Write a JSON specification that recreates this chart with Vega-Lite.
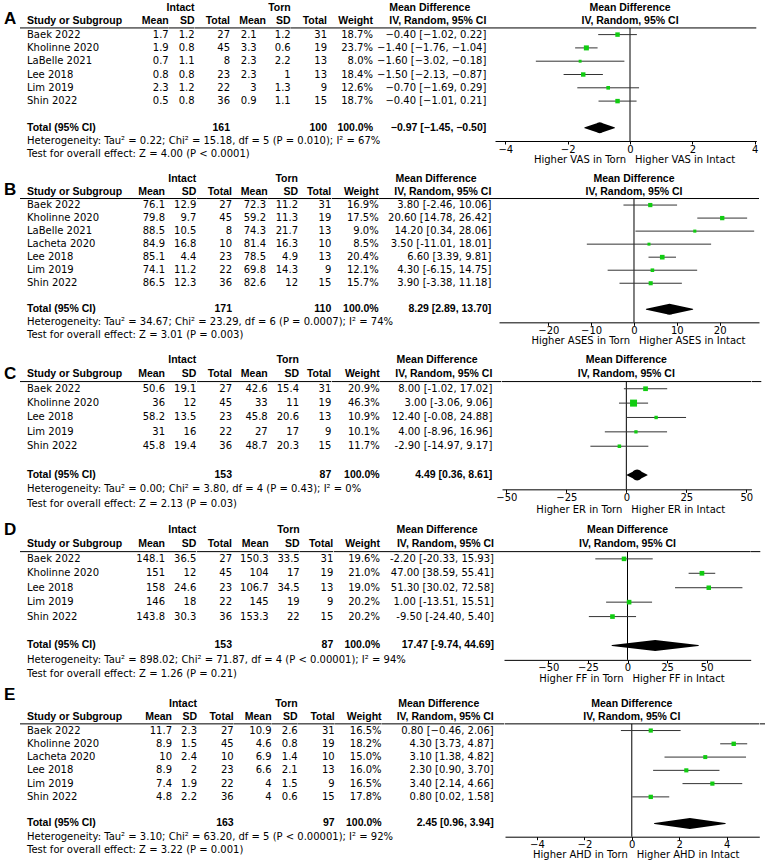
{
"$schema":"https://vega.github.io/schema/vega-lite/v6.json",
"background":"white",
"padding":{"left":2,"top":3,"right":0,"bottom":0},
"config":{"view":{"stroke":null},"text":{"font":"DejaVu Sans","fontSize":10,"color":"#000","align":"right","baseline":"middle"},"rule":{"color":"#000","strokeWidth":1},"axis":{"grid":false,"domainColor":"#000","tickColor":"#000","labelColor":"#000","labelFont":"DejaVu Sans","labelFontSize":10,"tickSize":3,"labelPadding":0,"labelFlush":false,"labelOverlap":false}},
"datasets":{
"A":[
{"row":"h1","kind":"head","isd":"Intact","tsd":"Torn","ci":"Mean Difference"},
{"row":"h2","kind":"head","study":"Study or Subgroup","im":"Mean","isd":"SD","itot":"Total","tm":"Mean","tsd":"SD","ttot":"Total","w":"Weight","ci":"IV, Random, 95% CI"},
{"row":"Baek 2022","kind":"study","study":"Baek 2022","im":1.7,"isd":1.2,"itot":27,"tm":2.1,"tsd":1.2,"ttot":31,"w":"18.7%","wt":18.7,"ci":"−0.40 [−1.02, 0.22]","md":-0.4,"lo":-1.02,"hi":0.22},
{"row":"Kholinne 2020","kind":"study","study":"Kholinne 2020","im":1.9,"isd":0.8,"itot":45,"tm":3.3,"tsd":0.6,"ttot":19,"w":"23.7%","wt":23.7,"ci":"−1.40 [−1.76, −1.04]","md":-1.4,"lo":-1.76,"hi":-1.04},
{"row":"LaBelle 2021","kind":"study","study":"LaBelle 2021","im":0.7,"isd":1.1,"itot":8,"tm":2.3,"tsd":2.2,"ttot":13,"w":"8.0%","wt":8.0,"ci":"−1.60 [−3.02, −0.18]","md":-1.6,"lo":-3.02,"hi":-0.18},
{"row":"Lee 2018","kind":"study","study":"Lee 2018","im":0.8,"isd":0.8,"itot":23,"tm":2.3,"tsd":1,"ttot":13,"w":"18.4%","wt":18.4,"ci":"−1.50 [−2.13, −0.87]","md":-1.5,"lo":-2.13,"hi":-0.87},
{"row":"Lim 2019","kind":"study","study":"Lim 2019","im":2.3,"isd":1.2,"itot":22,"tm":3,"tsd":1.3,"ttot":9,"w":"12.6%","wt":12.6,"ci":"−0.70 [−1.69, 0.29]","md":-0.7,"lo":-1.69,"hi":0.29},
{"row":"Shin 2022","kind":"study","study":"Shin 2022","im":0.5,"isd":0.8,"itot":36,"tm":0.9,"tsd":1.1,"ttot":15,"w":"18.7%","wt":18.7,"ci":"−0.40 [−1.01, 0.21]","md":-0.4,"lo":-1.01,"hi":0.21},
{"row":"Total","kind":"total","study":"Total (95% CI)","itot":161,"ttot":100,"w":"100.0%","ci":"−0.97 [−1.45, −0.50]","md":-0.97,"lo":-1.45,"hi":-0.5},
{"row":"Het","kind":"note","study":"Heterogeneity: Tau² = 0.22; Chi² = 15.18, df = 5 (P = 0.010); I² = 67%","favL":"Higher VAS in Torn","favR":"Higher VAS in Intact"},
{"row":"Test","kind":"note","study":"Test for overall effect: Z = 4.00 (P < 0.0001)"}
],
"B":[
{"row":"h1","kind":"head","isd":"Intact","tsd":"Torn","ci":"Mean Difference"},
{"row":"h2","kind":"head","study":"Study or Subgroup","im":"Mean","isd":"SD","itot":"Total","tm":"Mean","tsd":"SD","ttot":"Total","w":"Weight","ci":"IV, Random, 95% CI"},
{"row":"Baek 2022","kind":"study","study":"Baek 2022","im":76.1,"isd":12.9,"itot":27,"tm":72.3,"tsd":11.2,"ttot":31,"w":"16.9%","wt":16.9,"ci":"3.80 [-2.46, 10.06]","md":3.8,"lo":-2.46,"hi":10.06},
{"row":"Kholinne 2020","kind":"study","study":"Kholinne 2020","im":79.8,"isd":9.7,"itot":45,"tm":59.2,"tsd":11.3,"ttot":19,"w":"17.5%","wt":17.5,"ci":"20.60 [14.78, 26.42]","md":20.6,"lo":14.78,"hi":26.42},
{"row":"LaBelle 2021","kind":"study","study":"LaBelle 2021","im":88.5,"isd":10.5,"itot":8,"tm":74.3,"tsd":21.7,"ttot":13,"w":"9.0%","wt":9.0,"ci":"14.20 [0.34, 28.06]","md":14.2,"lo":0.34,"hi":28.06},
{"row":"Lacheta 2020","kind":"study","study":"Lacheta 2020","im":84.9,"isd":16.8,"itot":10,"tm":81.4,"tsd":16.3,"ttot":10,"w":"8.5%","wt":8.5,"ci":"3.50 [-11.01, 18.01]","md":3.5,"lo":-11.01,"hi":18.01},
{"row":"Lee 2018","kind":"study","study":"Lee 2018","im":85.1,"isd":4.4,"itot":23,"tm":78.5,"tsd":4.9,"ttot":13,"w":"20.4%","wt":20.4,"ci":"6.60 [3.39, 9.81]","md":6.6,"lo":3.39,"hi":9.81},
{"row":"Lim 2019","kind":"study","study":"Lim 2019","im":74.1,"isd":11.2,"itot":22,"tm":69.8,"tsd":14.3,"ttot":9,"w":"12.1%","wt":12.1,"ci":"4.30 [-6.15, 14.75]","md":4.3,"lo":-6.15,"hi":14.75},
{"row":"Shin 2022","kind":"study","study":"Shin 2022","im":86.5,"isd":12.3,"itot":36,"tm":82.6,"tsd":12,"ttot":15,"w":"15.7%","wt":15.7,"ci":"3.90 [-3.38, 11.18]","md":3.9,"lo":-3.38,"hi":11.18},
{"row":"Total","kind":"total","study":"Total (95% CI)","itot":171,"ttot":110,"w":"100.0%","ci":"8.29 [2.89, 13.70]","md":8.29,"lo":2.89,"hi":13.7},
{"row":"Het","kind":"note","study":"Heterogeneity: Tau² = 34.67; Chi² = 23.29, df = 6 (P = 0.0007); I² = 74%","favL":"Higher ASES in Torn","favR":"Higher ASES in Intact"},
{"row":"Test","kind":"note","study":"Test for overall effect: Z = 3.01 (P = 0.003)"}
],
"C":[
{"row":"h1","kind":"head","isd":"Intact","tsd":"Torn","ci":"Mean Difference"},
{"row":"h2","kind":"head","study":"Study or Subgroup","im":"Mean","isd":"SD","itot":"Total","tm":"Mean","tsd":"SD","ttot":"Total","w":"Weight","ci":"IV, Random, 95% CI"},
{"row":"Baek 2022","kind":"study","study":"Baek 2022","im":50.6,"isd":19.1,"itot":27,"tm":42.6,"tsd":15.4,"ttot":31,"w":"20.9%","wt":20.9,"ci":"8.00 [-1.02, 17.02]","md":8.0,"lo":-1.02,"hi":17.02},
{"row":"Kholinne 2020","kind":"study","study":"Kholinne 2020","im":36,"isd":12,"itot":45,"tm":33,"tsd":11,"ttot":19,"w":"46.3%","wt":46.3,"ci":"3.00 [-3.06, 9.06]","md":3.0,"lo":-3.06,"hi":9.06},
{"row":"Lee 2018","kind":"study","study":"Lee 2018","im":58.2,"isd":13.5,"itot":23,"tm":45.8,"tsd":20.6,"ttot":13,"w":"10.9%","wt":10.9,"ci":"12.40 [-0.08, 24.88]","md":12.4,"lo":-0.08,"hi":24.88},
{"row":"Lim 2019","kind":"study","study":"Lim 2019","im":31,"isd":16,"itot":22,"tm":27,"tsd":17,"ttot":9,"w":"10.1%","wt":10.1,"ci":"4.00 [-8.96, 16.96]","md":4.0,"lo":-8.96,"hi":16.96},
{"row":"Shin 2022","kind":"study","study":"Shin 2022","im":45.8,"isd":19.4,"itot":36,"tm":48.7,"tsd":20.3,"ttot":15,"w":"11.7%","wt":11.7,"ci":"-2.90 [-14.97, 9.17]","md":-2.9,"lo":-14.97,"hi":9.17},
{"row":"Total","kind":"total","study":"Total (95% CI)","itot":153,"ttot":87,"w":"100.0%","ci":"4.49 [0.36, 8.61]","md":4.49,"lo":0.36,"hi":8.61},
{"row":"Het","kind":"note","study":"Heterogeneity: Tau² = 0.00; Chi² = 3.80, df = 4 (P = 0.43); I² = 0%","favL":"Higher ER in Torn","favR":"Higher ER in Intact"},
{"row":"Test","kind":"note","study":"Test for overall effect: Z = 2.13 (P = 0.03)"}
],
"D":[
{"row":"h1","kind":"head","isd":"Intact","tsd":"Torn","ci":"Mean Difference"},
{"row":"h2","kind":"head","study":"Study or Subgroup","im":"Mean","isd":"SD","itot":"Total","tm":"Mean","tsd":"SD","ttot":"Total","w":"Weight","ci":"IV, Random, 95% CI"},
{"row":"Baek 2022","kind":"study","study":"Baek 2022","im":148.1,"isd":36.5,"itot":27,"tm":150.3,"tsd":33.5,"ttot":31,"w":"19.6%","wt":19.6,"ci":"-2.20 [-20.33, 15.93]","md":-2.2,"lo":-20.33,"hi":15.93},
{"row":"Kholinne 2020","kind":"study","study":"Kholinne 2020","im":151,"isd":12,"itot":45,"tm":104,"tsd":17,"ttot":19,"w":"21.0%","wt":21.0,"ci":"47.00 [38.59, 55.41]","md":47.0,"lo":38.59,"hi":55.41},
{"row":"Lee 2018","kind":"study","study":"Lee 2018","im":158,"isd":24.6,"itot":23,"tm":106.7,"tsd":34.5,"ttot":13,"w":"19.0%","wt":19.0,"ci":"51.30 [30.02, 72.58]","md":51.3,"lo":30.02,"hi":72.58},
{"row":"Lim 2019","kind":"study","study":"Lim 2019","im":146,"isd":18,"itot":22,"tm":145,"tsd":19,"ttot":9,"w":"20.2%","wt":20.2,"ci":"1.00 [-13.51, 15.51]","md":1.0,"lo":-13.51,"hi":15.51},
{"row":"Shin 2022","kind":"study","study":"Shin 2022","im":143.8,"isd":30.3,"itot":36,"tm":153.3,"tsd":22,"ttot":15,"w":"20.2%","wt":20.2,"ci":"-9.50 [-24.40, 5.40]","md":-9.5,"lo":-24.4,"hi":5.4},
{"row":"Total","kind":"total","study":"Total (95% CI)","itot":153,"ttot":87,"w":"100.0%","ci":"17.47 [-9.74, 44.69]","md":17.47,"lo":-9.74,"hi":44.69},
{"row":"Het","kind":"note","study":"Heterogeneity: Tau² = 898.02; Chi² = 71.87, df = 4 (P < 0.00001); I² = 94%","favL":"Higher FF in Torn","favR":"Higher FF in Intact"},
{"row":"Test","kind":"note","study":"Test for overall effect: Z = 1.26 (P = 0.21)"}
],
"E":[
{"row":"h1","kind":"head","isd":"Intact","tsd":"Torn","ci":"Mean Difference"},
{"row":"h2","kind":"head","study":"Study or Subgroup","im":"Mean","isd":"SD","itot":"Total","tm":"Mean","tsd":"SD","ttot":"Total","w":"Weight","ci":"IV, Random, 95% CI"},
{"row":"Baek 2022","kind":"study","study":"Baek 2022","im":11.7,"isd":2.3,"itot":27,"tm":10.9,"tsd":2.6,"ttot":31,"w":"16.5%","wt":16.5,"ci":"0.80 [−0.46, 2.06]","md":0.8,"lo":-0.46,"hi":2.06},
{"row":"Kholinne 2020","kind":"study","study":"Kholinne 2020","im":8.9,"isd":1.5,"itot":45,"tm":4.6,"tsd":0.8,"ttot":19,"w":"18.2%","wt":18.2,"ci":"4.30 [3.73, 4.87]","md":4.3,"lo":3.73,"hi":4.87},
{"row":"Lacheta 2020","kind":"study","study":"Lacheta 2020","im":10,"isd":2.4,"itot":10,"tm":6.9,"tsd":1.4,"ttot":10,"w":"15.0%","wt":15.0,"ci":"3.10 [1.38, 4.82]","md":3.1,"lo":1.38,"hi":4.82},
{"row":"Lee 2018","kind":"study","study":"Lee 2018","im":8.9,"isd":2,"itot":23,"tm":6.6,"tsd":2.1,"ttot":13,"w":"16.0%","wt":16.0,"ci":"2.30 [0.90, 3.70]","md":2.3,"lo":0.9,"hi":3.7},
{"row":"Lim 2019","kind":"study","study":"Lim 2019","im":7.4,"isd":1.9,"itot":22,"tm":4,"tsd":1.5,"ttot":9,"w":"16.5%","wt":16.5,"ci":"3.40 [2.14, 4.66]","md":3.4,"lo":2.14,"hi":4.66},
{"row":"Shin 2022","kind":"study","study":"Shin 2022","im":4.8,"isd":2.2,"itot":36,"tm":4,"tsd":0.6,"ttot":15,"w":"17.8%","wt":17.8,"ci":"0.80 [0.02, 1.58]","md":0.8,"lo":0.02,"hi":1.58},
{"row":"Total","kind":"total","study":"Total (95% CI)","itot":163,"ttot":97,"w":"100.0%","ci":"2.45 [0.96, 3.94]","md":2.45,"lo":0.96,"hi":3.94},
{"row":"Het","kind":"note","study":"Heterogeneity: Tau² = 3.10; Chi² = 63.20, df = 5 (P < 0.00001); I² = 92%","favL":"Higher AHD in Torn","favR":"Higher AHD in Intact"},
{"row":"Test","kind":"note","study":"Test for overall effect: Z = 3.22 (P = 0.001)"}
]
},
"spacing":0,
"vconcat":[
{"data":{"name":"A"},"spacing":0,"bounds":"flush","hconcat":[
{"width":18,"height":165.1,"transform":[{"filter":"datum.row==='h2'"}],"mark":{"type":"text","font":"Liberation Sans","fontWeight":"bold","fontSize":17,"align":"left","dx":2,"dy":-2},"encoding":{"x":{"value":0},"y":{"field":"row","type":"ordinal","axis":null,"scale":{"type":"point","padding":0.707,"align":0,"domain":["h1","h2","Baek 2022","Kholinne 2020","LaBelle 2021","Lee 2018","Lim 2019","Shin 2022","gap","Total","Het","Test"]}},"text":{"value":"A"}}},
{"width":102,"height":146.3,"encoding":{"y":{"field":"row","type":"ordinal","axis":null,"scale":{"type":"point","padding":0,"domain":["h1","h2","Baek 2022","Kholinne 2020","LaBelle 2021","Lee 2018","Lim 2019","Shin 2022","gap","Total","Het","Test"]}},"x":{"value":0},"text":{"field":"study","type":"nominal"}},"layer":[
{"transform":[{"filter":"datum.kind==='study'||datum.kind==='note'"}],"mark":{"type":"text","align":"left","dx":7}},
{"transform":[{"filter":"(datum.kind==='head'||datum.kind==='total')&&isValid(datum.study)"}],"mark":{"type":"text","font":"Liberation Sans","fontWeight":"bold","fontSize":10.5,"align":"left","dx":7}},
{"transform":[{"filter":"datum.row==='h2'"}],"mark":{"type":"rule","yOffset":6.65},"encoding":{"x":{"value":0},"x2":{"value":"width"},"text":null}}]},
{"width":46.7,"height":146.3,"encoding":{"y":{"field":"row","type":"ordinal","axis":null,"scale":{"type":"point","padding":0,"domain":["h1","h2","Baek 2022","Kholinne 2020","LaBelle 2021","Lee 2018","Lim 2019","Shin 2022","gap","Total","Het","Test"]}},"x":{"value":"width"},"text":{"field":"im","type":"nominal"}},"layer":[
{"transform":[{"filter":"datum.kind==='study'"}],"mark":{"type":"text"}},
{"transform":[{"filter":"datum.kind!=='study'&&isValid(datum.im)"}],"mark":{"type":"text","font":"Liberation Sans","fontWeight":"bold","fontSize":10.5}},
{"transform":[{"filter":"datum.row==='h2'"}],"mark":{"type":"rule","yOffset":6.65},"encoding":{"x":{"value":0},"x2":{"value":"width"},"text":null}}]},
{"width":25.6,"height":146.3,"encoding":{"y":{"field":"row","type":"ordinal","axis":null,"scale":{"type":"point","padding":0,"domain":["h1","h2","Baek 2022","Kholinne 2020","LaBelle 2021","Lee 2018","Lim 2019","Shin 2022","gap","Total","Het","Test"]}},"x":{"value":"width"},"text":{"field":"isd","type":"nominal"}},"layer":[
{"transform":[{"filter":"datum.kind==='study'"}],"mark":{"type":"text"}},
{"transform":[{"filter":"datum.kind!=='study'&&isValid(datum.isd)"}],"mark":{"type":"text","font":"Liberation Sans","fontWeight":"bold","fontSize":10.5}},
{"transform":[{"filter":"datum.row==='h2'"}],"mark":{"type":"rule","yOffset":6.65},"encoding":{"x":{"value":0},"x2":{"value":"width"},"text":null}}]},
{"width":35,"height":146.3,"encoding":{"y":{"field":"row","type":"ordinal","axis":null,"scale":{"type":"point","padding":0,"domain":["h1","h2","Baek 2022","Kholinne 2020","LaBelle 2021","Lee 2018","Lim 2019","Shin 2022","gap","Total","Het","Test"]}},"x":{"value":"width"},"text":{"field":"itot","type":"nominal"}},"layer":[
{"transform":[{"filter":"datum.kind==='study'"}],"mark":{"type":"text"}},
{"transform":[{"filter":"datum.kind!=='study'&&isValid(datum.itot)"}],"mark":{"type":"text","font":"Liberation Sans","fontWeight":"bold","fontSize":10.5}},
{"transform":[{"filter":"datum.row==='h2'"}],"mark":{"type":"rule","yOffset":6.65},"encoding":{"x":{"value":0},"x2":{"value":"width"},"text":null}}]},
{"width":36,"height":146.3,"encoding":{"y":{"field":"row","type":"ordinal","axis":null,"scale":{"type":"point","padding":0,"domain":["h1","h2","Baek 2022","Kholinne 2020","LaBelle 2021","Lee 2018","Lim 2019","Shin 2022","gap","Total","Het","Test"]}},"x":{"value":"width"},"text":{"field":"tm","type":"nominal"}},"layer":[
{"transform":[{"filter":"datum.kind==='study'"}],"mark":{"type":"text","dx":-9.3}},
{"transform":[{"filter":"datum.kind!=='study'&&isValid(datum.tm)"}],"mark":{"type":"text","font":"Liberation Sans","fontWeight":"bold","fontSize":10.5}},
{"transform":[{"filter":"datum.row==='h2'"}],"mark":{"type":"rule","yOffset":6.65},"encoding":{"x":{"value":0},"x2":{"value":"width"},"text":null}}]},
{"width":24.7,"height":146.3,"encoding":{"y":{"field":"row","type":"ordinal","axis":null,"scale":{"type":"point","padding":0,"domain":["h1","h2","Baek 2022","Kholinne 2020","LaBelle 2021","Lee 2018","Lim 2019","Shin 2022","gap","Total","Het","Test"]}},"x":{"value":"width"},"text":{"field":"tsd","type":"nominal"}},"layer":[
{"transform":[{"filter":"datum.kind==='study'"}],"mark":{"type":"text"}},
{"transform":[{"filter":"datum.kind!=='study'&&isValid(datum.tsd)"}],"mark":{"type":"text","font":"Liberation Sans","fontWeight":"bold","fontSize":10.5}},
{"transform":[{"filter":"datum.row==='h2'"}],"mark":{"type":"rule","yOffset":6.65},"encoding":{"x":{"value":0},"x2":{"value":"width"},"text":null}}]},
{"width":36,"height":146.3,"encoding":{"y":{"field":"row","type":"ordinal","axis":null,"scale":{"type":"point","padding":0,"domain":["h1","h2","Baek 2022","Kholinne 2020","LaBelle 2021","Lee 2018","Lim 2019","Shin 2022","gap","Total","Het","Test"]}},"x":{"value":"width"},"text":{"field":"ttot","type":"nominal"}},"layer":[
{"transform":[{"filter":"datum.kind==='study'"}],"mark":{"type":"text"}},
{"transform":[{"filter":"datum.kind!=='study'&&isValid(datum.ttot)"}],"mark":{"type":"text","font":"Liberation Sans","fontWeight":"bold","fontSize":10.5}},
{"transform":[{"filter":"datum.row==='h2'"}],"mark":{"type":"rule","yOffset":6.65},"encoding":{"x":{"value":0},"x2":{"value":"width"},"text":null}}]},
{"width":46,"height":146.3,"encoding":{"y":{"field":"row","type":"ordinal","axis":null,"scale":{"type":"point","padding":0,"domain":["h1","h2","Baek 2022","Kholinne 2020","LaBelle 2021","Lee 2018","Lim 2019","Shin 2022","gap","Total","Het","Test"]}},"x":{"value":"width"},"text":{"field":"w","type":"nominal"}},"layer":[
{"transform":[{"filter":"datum.kind==='study'"}],"mark":{"type":"text"}},
{"transform":[{"filter":"datum.kind!=='study'&&isValid(datum.w)"}],"mark":{"type":"text","font":"Liberation Sans","fontWeight":"bold","fontSize":10.5}},
{"transform":[{"filter":"datum.row==='h2'"}],"mark":{"type":"rule","yOffset":6.65},"encoding":{"x":{"value":0},"x2":{"value":"width"},"text":null}}]},
{"width":122,"height":146.3,"encoding":{"y":{"field":"row","type":"ordinal","axis":null,"scale":{"type":"point","padding":0,"domain":["h1","h2","Baek 2022","Kholinne 2020","LaBelle 2021","Lee 2018","Lim 2019","Shin 2022","gap","Total","Het","Test"]}},"x":{"value":"width"},"text":{"field":"ci","type":"nominal"}},"layer":[
{"transform":[{"filter":"datum.kind==='study'"}],"mark":{"type":"text","dx":-8.7}},
{"transform":[{"filter":"datum.row==='h2'||datum.kind==='total'"}],"mark":{"type":"text","font":"Liberation Sans","fontWeight":"bold","fontSize":10.5,"dx":-8.7}},
{"transform":[{"filter":"datum.row==='h1'"}],"mark":{"type":"text","font":"Liberation Sans","fontWeight":"bold","fontSize":10.5,"align":"center","dx":-65.3}},
{"transform":[{"filter":"datum.row==='h2'"}],"mark":{"type":"rule","yOffset":6.65},"encoding":{"x":{"value":0},"x2":{"value":"width"},"text":null}}]},
{"width":261.3,"height":133,"encoding":{"y":{"field":"row","type":"ordinal","axis":null,"scale":{"type":"point","padding":0,"domain":["h1","h2","Baek 2022","Kholinne 2020","LaBelle 2021","Lee 2018","Lim 2019","Shin 2022","gap","Total","Het"]}}},"layer":[
{"transform":[{"filter":"datum.row==='h2'"}],"mark":{"type":"rule","yOffset":6.65},"encoding":{"x":{"value":0},"x2":{"value":"width"}}},
{"transform":[{"filter":"datum.row==='h2'"}],"mark":{"type":"rule","yOffset":6.65},"encoding":{"x":{"datum":0,"type":"quantitative","title":null},"y2":{"datum":"Het"}}},
{"transform":[{"filter":"datum.kind==='study'"}],"mark":{"type":"rule","color":"#333"},"encoding":{"x":{"field":"lo","type":"quantitative","title":null,"scale":{"domain":[-4.33,4.05],"nice":false,"zero":false},"axis":{"values":[-4,-2,0,2,4],"title":null}},"x2":{"field":"hi"}}},
{"transform":[{"filter":"datum.kind==='study'"}],"mark":{"type":"square","filled":true,"opacity":1,"color":"#11cc11"},"encoding":{"x":{"field":"md","type":"quantitative","title":null},"size":{"field":"wt","type":"quantitative","scale":{"domain":[0,50],"range":[0,53]},"legend":null}}},
{"transform":[{"filter":"datum.kind==='total'"},{"fold":["lo","md","hi"],"as":["k","v"]}],"mark":{"type":"trail","color":"#000"},"encoding":{"x":{"field":"v","type":"quantitative","title":null},"size":{"condition":{"test":"datum.k==='md'","value":11},"value":0}}},
{"transform":[{"filter":"datum.kind==='head'"}],"mark":{"type":"text","font":"Liberation Sans","fontWeight":"bold","fontSize":10.5,"align":"center"},"encoding":{"x":{"datum":0,"type":"quantitative","title":null},"text":{"field":"ci","type":"nominal"}}},
{"transform":[{"filter":"datum.row==='Het'"}],"mark":{"type":"text","align":"right","dx":-4,"dy":19},"encoding":{"x":{"datum":0,"type":"quantitative","title":null},"text":{"field":"favL","type":"nominal"}}},
{"transform":[{"filter":"datum.row==='Het'"}],"mark":{"type":"text","align":"left","dx":5,"dy":19},"encoding":{"x":{"datum":0,"type":"quantitative","title":null},"text":{"field":"favR","type":"nominal"}}}]}
]},
{"data":{"name":"B"},"spacing":0,"bounds":"flush","hconcat":[
{"width":18,"height":175.2,"transform":[{"filter":"datum.row==='h2'"}],"mark":{"type":"text","font":"Liberation Sans","fontWeight":"bold","fontSize":17,"align":"left","dx":2,"dy":-2},"encoding":{"x":{"value":0},"y":{"field":"row","type":"ordinal","axis":null,"scale":{"type":"point","padding":0.723,"align":0,"domain":["h1","h2","Baek 2022","Kholinne 2020","LaBelle 2021","Lacheta 2020","Lee 2018","Lim 2019","Shin 2022","gap","Total","Het","Test"]}},"text":{"value":"B"}}},
{"width":102,"height":156.36,"encoding":{"y":{"field":"row","type":"ordinal","axis":null,"scale":{"type":"point","padding":0,"domain":["h1","h2","Baek 2022","Kholinne 2020","LaBelle 2021","Lacheta 2020","Lee 2018","Lim 2019","Shin 2022","gap","Total","Het","Test"]}},"x":{"value":0},"text":{"field":"study","type":"nominal"}},"layer":[
{"transform":[{"filter":"datum.kind==='study'||datum.kind==='note'"}],"mark":{"type":"text","align":"left","dx":7}},
{"transform":[{"filter":"(datum.kind==='head'||datum.kind==='total')&&isValid(datum.study)"}],"mark":{"type":"text","font":"Liberation Sans","fontWeight":"bold","fontSize":10.5,"align":"left","dx":7}},
{"transform":[{"filter":"datum.row==='h2'"}],"mark":{"type":"rule","yOffset":6.5},"encoding":{"x":{"value":0},"x2":{"value":"width"},"text":null}}]},
{"width":43,"height":156.36,"encoding":{"y":{"field":"row","type":"ordinal","axis":null,"scale":{"type":"point","padding":0,"domain":["h1","h2","Baek 2022","Kholinne 2020","LaBelle 2021","Lacheta 2020","Lee 2018","Lim 2019","Shin 2022","gap","Total","Het","Test"]}},"x":{"value":"width"},"text":{"field":"im","type":"nominal"}},"layer":[
{"transform":[{"filter":"datum.kind==='study'"}],"mark":{"type":"text"}},
{"transform":[{"filter":"datum.kind!=='study'&&isValid(datum.im)"}],"mark":{"type":"text","font":"Liberation Sans","fontWeight":"bold","fontSize":10.5}},
{"transform":[{"filter":"datum.row==='h2'"}],"mark":{"type":"rule","yOffset":6.5},"encoding":{"x":{"value":0},"x2":{"value":"width"},"text":null}}]},
{"width":31.3,"height":156.36,"encoding":{"y":{"field":"row","type":"ordinal","axis":null,"scale":{"type":"point","padding":0,"domain":["h1","h2","Baek 2022","Kholinne 2020","LaBelle 2021","Lacheta 2020","Lee 2018","Lim 2019","Shin 2022","gap","Total","Het","Test"]}},"x":{"value":"width"},"text":{"field":"isd","type":"nominal"}},"layer":[
{"transform":[{"filter":"datum.kind==='study'"}],"mark":{"type":"text"}},
{"transform":[{"filter":"datum.kind!=='study'&&isValid(datum.isd)"}],"mark":{"type":"text","font":"Liberation Sans","fontWeight":"bold","fontSize":10.5}},
{"transform":[{"filter":"datum.row==='h2'"}],"mark":{"type":"rule","yOffset":6.5},"encoding":{"x":{"value":0},"x2":{"value":"width"},"text":null}}]},
{"width":35,"height":156.36,"encoding":{"y":{"field":"row","type":"ordinal","axis":null,"scale":{"type":"point","padding":0,"domain":["h1","h2","Baek 2022","Kholinne 2020","LaBelle 2021","Lacheta 2020","Lee 2018","Lim 2019","Shin 2022","gap","Total","Het","Test"]}},"x":{"value":"width"},"text":{"field":"itot","type":"nominal"}},"layer":[
{"transform":[{"filter":"datum.kind==='study'"}],"mark":{"type":"text"}},
{"transform":[{"filter":"datum.kind!=='study'&&isValid(datum.itot)"}],"mark":{"type":"text","font":"Liberation Sans","fontWeight":"bold","fontSize":10.5}},
{"transform":[{"filter":"datum.row==='h2'"}],"mark":{"type":"rule","yOffset":6.5},"encoding":{"x":{"value":0},"x2":{"value":"width"},"text":null}}]},
{"width":35.7,"height":156.36,"encoding":{"y":{"field":"row","type":"ordinal","axis":null,"scale":{"type":"point","padding":0,"domain":["h1","h2","Baek 2022","Kholinne 2020","LaBelle 2021","Lacheta 2020","Lee 2018","Lim 2019","Shin 2022","gap","Total","Het","Test"]}},"x":{"value":"width"},"text":{"field":"tm","type":"nominal"}},"layer":[
{"transform":[{"filter":"datum.kind==='study'"}],"mark":{"type":"text","dx":-1.7}},
{"transform":[{"filter":"datum.kind!=='study'&&isValid(datum.tm)"}],"mark":{"type":"text","font":"Liberation Sans","fontWeight":"bold","fontSize":10.5}},
{"transform":[{"filter":"datum.row==='h2'"}],"mark":{"type":"rule","yOffset":6.5},"encoding":{"x":{"value":0},"x2":{"value":"width"},"text":null}}]},
{"width":30,"height":156.36,"encoding":{"y":{"field":"row","type":"ordinal","axis":null,"scale":{"type":"point","padding":0,"domain":["h1","h2","Baek 2022","Kholinne 2020","LaBelle 2021","Lacheta 2020","Lee 2018","Lim 2019","Shin 2022","gap","Total","Het","Test"]}},"x":{"value":"width"},"text":{"field":"tsd","type":"nominal"}},"layer":[
{"transform":[{"filter":"datum.kind==='study'"}],"mark":{"type":"text"}},
{"transform":[{"filter":"datum.kind!=='study'&&isValid(datum.tsd)"}],"mark":{"type":"text","font":"Liberation Sans","fontWeight":"bold","fontSize":10.5}},
{"transform":[{"filter":"datum.row==='h2'"}],"mark":{"type":"rule","yOffset":6.5},"encoding":{"x":{"value":0},"x2":{"value":"width"},"text":null}}]},
{"width":33.3,"height":156.36,"encoding":{"y":{"field":"row","type":"ordinal","axis":null,"scale":{"type":"point","padding":0,"domain":["h1","h2","Baek 2022","Kholinne 2020","LaBelle 2021","Lacheta 2020","Lee 2018","Lim 2019","Shin 2022","gap","Total","Het","Test"]}},"x":{"value":"width"},"text":{"field":"ttot","type":"nominal"}},"layer":[
{"transform":[{"filter":"datum.kind==='study'"}],"mark":{"type":"text"}},
{"transform":[{"filter":"datum.kind!=='study'&&isValid(datum.ttot)"}],"mark":{"type":"text","font":"Liberation Sans","fontWeight":"bold","fontSize":10.5}},
{"transform":[{"filter":"datum.row==='h2'"}],"mark":{"type":"rule","yOffset":6.5},"encoding":{"x":{"value":0},"x2":{"value":"width"},"text":null}}]},
{"width":46.7,"height":156.36,"encoding":{"y":{"field":"row","type":"ordinal","axis":null,"scale":{"type":"point","padding":0,"domain":["h1","h2","Baek 2022","Kholinne 2020","LaBelle 2021","Lacheta 2020","Lee 2018","Lim 2019","Shin 2022","gap","Total","Het","Test"]}},"x":{"value":"width"},"text":{"field":"w","type":"nominal"}},"layer":[
{"transform":[{"filter":"datum.kind==='study'"}],"mark":{"type":"text"}},
{"transform":[{"filter":"datum.kind!=='study'&&isValid(datum.w)"}],"mark":{"type":"text","font":"Liberation Sans","fontWeight":"bold","fontSize":10.5}},
{"transform":[{"filter":"datum.row==='h2'"}],"mark":{"type":"rule","yOffset":6.5},"encoding":{"x":{"value":0},"x2":{"value":"width"},"text":null}}]},
{"width":120,"height":156.36,"encoding":{"y":{"field":"row","type":"ordinal","axis":null,"scale":{"type":"point","padding":0,"domain":["h1","h2","Baek 2022","Kholinne 2020","LaBelle 2021","Lacheta 2020","Lee 2018","Lim 2019","Shin 2022","gap","Total","Het","Test"]}},"x":{"value":"width"},"text":{"field":"ci","type":"nominal"}},"layer":[
{"transform":[{"filter":"datum.kind==='study'"}],"mark":{"type":"text","dx":-7.7}},
{"transform":[{"filter":"datum.row==='h2'||datum.kind==='total'"}],"mark":{"type":"text","font":"Liberation Sans","fontWeight":"bold","fontSize":10.5,"dx":-7.7}},
{"transform":[{"filter":"datum.row==='h1'"}],"mark":{"type":"text","font":"Liberation Sans","fontWeight":"bold","fontSize":10.5,"align":"center","dx":-63}},
{"transform":[{"filter":"datum.row==='h2'"}],"mark":{"type":"rule","yOffset":6.5},"encoding":{"x":{"value":0},"x2":{"value":"width"},"text":null}}]},
{"width":260,"height":143.33,"encoding":{"y":{"field":"row","type":"ordinal","axis":null,"scale":{"type":"point","padding":0,"domain":["h1","h2","Baek 2022","Kholinne 2020","LaBelle 2021","Lacheta 2020","Lee 2018","Lim 2019","Shin 2022","gap","Total","Het"]}}},"layer":[
{"transform":[{"filter":"datum.row==='h2'"}],"mark":{"type":"rule","yOffset":6.5},"encoding":{"x":{"value":0},"x2":{"value":"width"}}},
{"transform":[{"filter":"datum.row==='h2'"}],"mark":{"type":"rule","yOffset":6.5},"encoding":{"x":{"datum":0,"type":"quantitative","title":null},"y2":{"datum":"Het"}}},
{"transform":[{"filter":"datum.kind==='study'"}],"mark":{"type":"rule","color":"#333"},"encoding":{"x":{"field":"lo","type":"quantitative","title":null,"scale":{"domain":[-31.52,29.19],"nice":false,"zero":false},"axis":{"values":[-20,-10,0,10,20],"title":null}},"x2":{"field":"hi"}}},
{"transform":[{"filter":"datum.kind==='study'"}],"mark":{"type":"square","filled":true,"opacity":1,"color":"#11cc11"},"encoding":{"x":{"field":"md","type":"quantitative","title":null},"size":{"field":"wt","type":"quantitative","scale":{"domain":[0,50],"range":[0,53]},"legend":null}}},
{"transform":[{"filter":"datum.kind==='total'"},{"fold":["lo","md","hi"],"as":["k","v"]}],"mark":{"type":"trail","color":"#000"},"encoding":{"x":{"field":"v","type":"quantitative","title":null},"size":{"condition":{"test":"datum.k==='md'","value":11},"value":0}}},
{"transform":[{"filter":"datum.kind==='head'"}],"mark":{"type":"text","font":"Liberation Sans","fontWeight":"bold","fontSize":10.5,"align":"center"},"encoding":{"x":{"datum":0,"type":"quantitative","title":null},"text":{"field":"ci","type":"nominal"}}},
{"transform":[{"filter":"datum.row==='Het'"}],"mark":{"type":"text","align":"right","dx":-4,"dy":18.5},"encoding":{"x":{"datum":0,"type":"quantitative","title":null},"text":{"field":"favL","type":"nominal"}}},
{"transform":[{"filter":"datum.row==='Het'"}],"mark":{"type":"text","align":"left","dx":5,"dy":18.5},"encoding":{"x":{"datum":0,"type":"quantitative","title":null},"text":{"field":"favR","type":"nominal"}}}]}
]},
{"data":{"name":"C"},"spacing":0,"bounds":"flush","hconcat":[
{"width":18,"height":160.8,"transform":[{"filter":"datum.row==='h2'"}],"mark":{"type":"text","font":"Liberation Sans","fontWeight":"bold","fontSize":17,"align":"left","dx":2,"dy":0},"encoding":{"x":{"value":0},"y":{"field":"row","type":"ordinal","axis":null,"scale":{"type":"point","padding":0.595,"align":0,"domain":["h1","h2","Baek 2022","Kholinne 2020","Lee 2018","Lim 2019","Shin 2022","gap","Total","Het","Test"]}},"text":{"value":"C"}}},
{"width":102,"height":143.7,"encoding":{"y":{"field":"row","type":"ordinal","axis":null,"scale":{"type":"point","padding":0,"domain":["h1","h2","Baek 2022","Kholinne 2020","Lee 2018","Lim 2019","Shin 2022","gap","Total","Het","Test"]}},"x":{"value":0},"text":{"field":"study","type":"nominal"}},"layer":[
{"transform":[{"filter":"datum.kind==='study'||datum.kind==='note'"}],"mark":{"type":"text","align":"left","dx":7}},
{"transform":[{"filter":"(datum.kind==='head'||datum.kind==='total')&&isValid(datum.study)"}],"mark":{"type":"text","font":"Liberation Sans","fontWeight":"bold","fontSize":10.5,"align":"left","dx":7}},
{"transform":[{"filter":"datum.row==='h2'"}],"mark":{"type":"rule","yOffset":7.2},"encoding":{"x":{"value":0},"x2":{"value":"width"},"text":null}}]},
{"width":43,"height":143.7,"encoding":{"y":{"field":"row","type":"ordinal","axis":null,"scale":{"type":"point","padding":0,"domain":["h1","h2","Baek 2022","Kholinne 2020","Lee 2018","Lim 2019","Shin 2022","gap","Total","Het","Test"]}},"x":{"value":"width"},"text":{"field":"im","type":"nominal"}},"layer":[
{"transform":[{"filter":"datum.kind==='study'"}],"mark":{"type":"text"}},
{"transform":[{"filter":"datum.kind!=='study'&&isValid(datum.im)"}],"mark":{"type":"text","font":"Liberation Sans","fontWeight":"bold","fontSize":10.5}},
{"transform":[{"filter":"datum.row==='h2'"}],"mark":{"type":"rule","yOffset":7.2},"encoding":{"x":{"value":0},"x2":{"value":"width"},"text":null}}]},
{"width":31.3,"height":143.7,"encoding":{"y":{"field":"row","type":"ordinal","axis":null,"scale":{"type":"point","padding":0,"domain":["h1","h2","Baek 2022","Kholinne 2020","Lee 2018","Lim 2019","Shin 2022","gap","Total","Het","Test"]}},"x":{"value":"width"},"text":{"field":"isd","type":"nominal"}},"layer":[
{"transform":[{"filter":"datum.kind==='study'"}],"mark":{"type":"text"}},
{"transform":[{"filter":"datum.kind!=='study'&&isValid(datum.isd)"}],"mark":{"type":"text","font":"Liberation Sans","fontWeight":"bold","fontSize":10.5}},
{"transform":[{"filter":"datum.row==='h2'"}],"mark":{"type":"rule","yOffset":7.2},"encoding":{"x":{"value":0},"x2":{"value":"width"},"text":null}}]},
{"width":35,"height":143.7,"encoding":{"y":{"field":"row","type":"ordinal","axis":null,"scale":{"type":"point","padding":0,"domain":["h1","h2","Baek 2022","Kholinne 2020","Lee 2018","Lim 2019","Shin 2022","gap","Total","Het","Test"]}},"x":{"value":"width"},"text":{"field":"itot","type":"nominal"}},"layer":[
{"transform":[{"filter":"datum.kind==='study'"}],"mark":{"type":"text"}},
{"transform":[{"filter":"datum.kind!=='study'&&isValid(datum.itot)"}],"mark":{"type":"text","font":"Liberation Sans","fontWeight":"bold","fontSize":10.5}},
{"transform":[{"filter":"datum.row==='h2'"}],"mark":{"type":"rule","yOffset":7.2},"encoding":{"x":{"value":0},"x2":{"value":"width"},"text":null}}]},
{"width":35.7,"height":143.7,"encoding":{"y":{"field":"row","type":"ordinal","axis":null,"scale":{"type":"point","padding":0,"domain":["h1","h2","Baek 2022","Kholinne 2020","Lee 2018","Lim 2019","Shin 2022","gap","Total","Het","Test"]}},"x":{"value":"width"},"text":{"field":"tm","type":"nominal"}},"layer":[
{"transform":[{"filter":"datum.kind==='study'"}],"mark":{"type":"text"}},
{"transform":[{"filter":"datum.kind!=='study'&&isValid(datum.tm)"}],"mark":{"type":"text","font":"Liberation Sans","fontWeight":"bold","fontSize":10.5}},
{"transform":[{"filter":"datum.row==='h2'"}],"mark":{"type":"rule","yOffset":7.2},"encoding":{"x":{"value":0},"x2":{"value":"width"},"text":null}}]},
{"width":31,"height":143.7,"encoding":{"y":{"field":"row","type":"ordinal","axis":null,"scale":{"type":"point","padding":0,"domain":["h1","h2","Baek 2022","Kholinne 2020","Lee 2018","Lim 2019","Shin 2022","gap","Total","Het","Test"]}},"x":{"value":"width"},"text":{"field":"tsd","type":"nominal"}},"layer":[
{"transform":[{"filter":"datum.kind==='study'"}],"mark":{"type":"text"}},
{"transform":[{"filter":"datum.kind!=='study'&&isValid(datum.tsd)"}],"mark":{"type":"text","font":"Liberation Sans","fontWeight":"bold","fontSize":10.5}},
{"transform":[{"filter":"datum.row==='h2'"}],"mark":{"type":"rule","yOffset":7.2},"encoding":{"x":{"value":0},"x2":{"value":"width"},"text":null}}]},
{"width":32.3,"height":143.7,"encoding":{"y":{"field":"row","type":"ordinal","axis":null,"scale":{"type":"point","padding":0,"domain":["h1","h2","Baek 2022","Kholinne 2020","Lee 2018","Lim 2019","Shin 2022","gap","Total","Het","Test"]}},"x":{"value":"width"},"text":{"field":"ttot","type":"nominal"}},"layer":[
{"transform":[{"filter":"datum.kind==='study'"}],"mark":{"type":"text"}},
{"transform":[{"filter":"datum.kind!=='study'&&isValid(datum.ttot)"}],"mark":{"type":"text","font":"Liberation Sans","fontWeight":"bold","fontSize":10.5}},
{"transform":[{"filter":"datum.row==='h2'"}],"mark":{"type":"rule","yOffset":7.2},"encoding":{"x":{"value":0},"x2":{"value":"width"},"text":null}}]},
{"width":47.7,"height":143.7,"encoding":{"y":{"field":"row","type":"ordinal","axis":null,"scale":{"type":"point","padding":0,"domain":["h1","h2","Baek 2022","Kholinne 2020","Lee 2018","Lim 2019","Shin 2022","gap","Total","Het","Test"]}},"x":{"value":"width"},"text":{"field":"w","type":"nominal"}},"layer":[
{"transform":[{"filter":"datum.kind==='study'"}],"mark":{"type":"text"}},
{"transform":[{"filter":"datum.kind!=='study'&&isValid(datum.w)"}],"mark":{"type":"text","font":"Liberation Sans","fontWeight":"bold","fontSize":10.5}},
{"transform":[{"filter":"datum.row==='h2'"}],"mark":{"type":"rule","yOffset":7.2},"encoding":{"x":{"value":0},"x2":{"value":"width"},"text":null}}]},
{"width":121.3,"height":143.7,"encoding":{"y":{"field":"row","type":"ordinal","axis":null,"scale":{"type":"point","padding":0,"domain":["h1","h2","Baek 2022","Kholinne 2020","Lee 2018","Lim 2019","Shin 2022","gap","Total","Het","Test"]}},"x":{"value":"width"},"text":{"field":"ci","type":"nominal"}},"layer":[
{"transform":[{"filter":"datum.kind==='study'"}],"mark":{"type":"text","dx":-9}},
{"transform":[{"filter":"datum.row==='h2'||datum.kind==='total'"}],"mark":{"type":"text","font":"Liberation Sans","fontWeight":"bold","fontSize":10.5,"dx":-9}},
{"transform":[{"filter":"datum.row==='h1'"}],"mark":{"type":"text","font":"Liberation Sans","fontWeight":"bold","fontSize":10.5,"align":"center","dx":-64.3}},
{"transform":[{"filter":"datum.row==='h2'"}],"mark":{"type":"rule","yOffset":7.2},"encoding":{"x":{"value":0},"x2":{"value":"width"},"text":null}}]},
{"width":249.4,"height":129.33,"encoding":{"y":{"field":"row","type":"ordinal","axis":null,"scale":{"type":"point","padding":0,"domain":["h1","h2","Baek 2022","Kholinne 2020","Lee 2018","Lim 2019","Shin 2022","gap","Total","Het"]}}},"layer":[
{"transform":[{"filter":"datum.row==='h2'"}],"mark":{"type":"rule","yOffset":7.2},"encoding":{"x":{"value":0},"x2":{"value":"width"}}},
{"transform":[{"filter":"datum.row==='h2'"}],"mark":{"type":"rule","yOffset":7.2},"encoding":{"x":{"datum":0,"type":"quantitative","title":null},"y2":{"datum":"Het"}}},
{"transform":[{"filter":"datum.kind==='study'"}],"mark":{"type":"rule","color":"#333"},"encoding":{"x":{"field":"lo","type":"quantitative","title":null,"scale":{"domain":[-51.8,52.1],"nice":false,"zero":false},"axis":{"values":[-50,-25,0,25,50],"title":null}},"x2":{"field":"hi"}}},
{"transform":[{"filter":"datum.kind==='study'"}],"mark":{"type":"square","filled":true,"opacity":1,"color":"#11cc11"},"encoding":{"x":{"field":"md","type":"quantitative","title":null},"size":{"field":"wt","type":"quantitative","scale":{"domain":[0,50],"range":[0,53]},"legend":null}}},
{"transform":[{"filter":"datum.kind==='total'"},{"fold":["lo","md","hi"],"as":["k","v"]}],"mark":{"type":"trail","color":"#000"},"encoding":{"x":{"field":"v","type":"quantitative","title":null},"size":{"condition":{"test":"datum.k==='md'","value":11},"value":0}}},
{"transform":[{"filter":"datum.kind==='head'"}],"mark":{"type":"text","font":"Liberation Sans","fontWeight":"bold","fontSize":10.5,"align":"center"},"encoding":{"x":{"datum":0,"type":"quantitative","title":null},"text":{"field":"ci","type":"nominal"}}},
{"transform":[{"filter":"datum.row==='Het'"}],"mark":{"type":"text","align":"right","dx":-4,"dy":20.4},"encoding":{"x":{"datum":0,"type":"quantitative","title":null},"text":{"field":"favL","type":"nominal"}}},
{"transform":[{"filter":"datum.row==='Het'"}],"mark":{"type":"text","align":"left","dx":5,"dy":20.4},"encoding":{"x":{"datum":0,"type":"quantitative","title":null},"text":{"field":"favR","type":"nominal"}}}]},
{"width":9.3,"height":143.7,"transform":[{"filter":"datum.row==='h2'"}],"mark":{"type":"rule","yOffset":7.2},"encoding":{"y":{"field":"row","type":"ordinal","axis":null,"scale":{"type":"point","padding":0,"domain":["h1","h2","Baek 2022","Kholinne 2020","Lee 2018","Lim 2019","Shin 2022","gap","Total","Het","Test"]}},"x":{"value":0},"x2":{"value":"width"}}}
]},
{"data":{"name":"D"},"spacing":0,"bounds":"flush","hconcat":[
{"width":18,"height":156,"transform":[{"filter":"datum.row==='h1'"}],"mark":{"type":"text","font":"Liberation Sans","fontWeight":"bold","fontSize":17,"align":"left","dx":2,"dy":0},"encoding":{"x":{"value":0},"y":{"field":"row","type":"ordinal","axis":null,"scale":{"type":"point","padding":0.405,"align":0,"domain":["h1","h2","Baek 2022","Kholinne 2020","Lee 2018","Lim 2019","Shin 2022","gap","Total","Het","Test"]}},"text":{"value":"D"}}},
{"width":102,"height":144.3,"encoding":{"y":{"field":"row","type":"ordinal","axis":null,"scale":{"type":"point","padding":0,"domain":["h1","h2","Baek 2022","Kholinne 2020","Lee 2018","Lim 2019","Shin 2022","gap","Total","Het","Test"]}},"x":{"value":0},"text":{"field":"study","type":"nominal"}},"layer":[
{"transform":[{"filter":"datum.kind==='study'||datum.kind==='note'"}],"mark":{"type":"text","align":"left","dx":7}},
{"transform":[{"filter":"(datum.kind==='head'||datum.kind==='total')&&isValid(datum.study)"}],"mark":{"type":"text","font":"Liberation Sans","fontWeight":"bold","fontSize":10.5,"align":"left","dx":7}},
{"transform":[{"filter":"datum.row==='h2'"}],"mark":{"type":"rule","yOffset":7.2},"encoding":{"x":{"value":0},"x2":{"value":"width"},"text":null}}]},
{"width":43,"height":144.3,"encoding":{"y":{"field":"row","type":"ordinal","axis":null,"scale":{"type":"point","padding":0,"domain":["h1","h2","Baek 2022","Kholinne 2020","Lee 2018","Lim 2019","Shin 2022","gap","Total","Het","Test"]}},"x":{"value":"width"},"text":{"field":"im","type":"nominal"}},"layer":[
{"transform":[{"filter":"datum.kind==='study'"}],"mark":{"type":"text"}},
{"transform":[{"filter":"datum.kind!=='study'&&isValid(datum.im)"}],"mark":{"type":"text","font":"Liberation Sans","fontWeight":"bold","fontSize":10.5}},
{"transform":[{"filter":"datum.row==='h2'"}],"mark":{"type":"rule","yOffset":7.2},"encoding":{"x":{"value":0},"x2":{"value":"width"},"text":null}}]},
{"width":31.3,"height":144.3,"encoding":{"y":{"field":"row","type":"ordinal","axis":null,"scale":{"type":"point","padding":0,"domain":["h1","h2","Baek 2022","Kholinne 2020","Lee 2018","Lim 2019","Shin 2022","gap","Total","Het","Test"]}},"x":{"value":"width"},"text":{"field":"isd","type":"nominal"}},"layer":[
{"transform":[{"filter":"datum.kind==='study'"}],"mark":{"type":"text"}},
{"transform":[{"filter":"datum.kind!=='study'&&isValid(datum.isd)"}],"mark":{"type":"text","font":"Liberation Sans","fontWeight":"bold","fontSize":10.5}},
{"transform":[{"filter":"datum.row==='h2'"}],"mark":{"type":"rule","yOffset":7.2},"encoding":{"x":{"value":0},"x2":{"value":"width"},"text":null}}]},
{"width":35,"height":144.3,"encoding":{"y":{"field":"row","type":"ordinal","axis":null,"scale":{"type":"point","padding":0,"domain":["h1","h2","Baek 2022","Kholinne 2020","Lee 2018","Lim 2019","Shin 2022","gap","Total","Het","Test"]}},"x":{"value":"width"},"text":{"field":"itot","type":"nominal"}},"layer":[
{"transform":[{"filter":"datum.kind==='study'"}],"mark":{"type":"text"}},
{"transform":[{"filter":"datum.kind!=='study'&&isValid(datum.itot)"}],"mark":{"type":"text","font":"Liberation Sans","fontWeight":"bold","fontSize":10.5}},
{"transform":[{"filter":"datum.row==='h2'"}],"mark":{"type":"rule","yOffset":7.2},"encoding":{"x":{"value":0},"x2":{"value":"width"},"text":null}}]},
{"width":36.7,"height":144.3,"encoding":{"y":{"field":"row","type":"ordinal","axis":null,"scale":{"type":"point","padding":0,"domain":["h1","h2","Baek 2022","Kholinne 2020","Lee 2018","Lim 2019","Shin 2022","gap","Total","Het","Test"]}},"x":{"value":"width"},"text":{"field":"tm","type":"nominal"}},"layer":[
{"transform":[{"filter":"datum.kind==='study'"}],"mark":{"type":"text"}},
{"transform":[{"filter":"datum.kind!=='study'&&isValid(datum.tm)"}],"mark":{"type":"text","font":"Liberation Sans","fontWeight":"bold","fontSize":10.5}},
{"transform":[{"filter":"datum.row==='h2'"}],"mark":{"type":"rule","yOffset":7.2},"encoding":{"x":{"value":0},"x2":{"value":"width"},"text":null}}]},
{"width":30.7,"height":144.3,"encoding":{"y":{"field":"row","type":"ordinal","axis":null,"scale":{"type":"point","padding":0,"domain":["h1","h2","Baek 2022","Kholinne 2020","Lee 2018","Lim 2019","Shin 2022","gap","Total","Het","Test"]}},"x":{"value":"width"},"text":{"field":"tsd","type":"nominal"}},"layer":[
{"transform":[{"filter":"datum.kind==='study'"}],"mark":{"type":"text"}},
{"transform":[{"filter":"datum.kind!=='study'&&isValid(datum.tsd)"}],"mark":{"type":"text","font":"Liberation Sans","fontWeight":"bold","fontSize":10.5}},
{"transform":[{"filter":"datum.row==='h2'"}],"mark":{"type":"rule","yOffset":7.2},"encoding":{"x":{"value":0},"x2":{"value":"width"},"text":null}}]},
{"width":33.3,"height":144.3,"encoding":{"y":{"field":"row","type":"ordinal","axis":null,"scale":{"type":"point","padding":0,"domain":["h1","h2","Baek 2022","Kholinne 2020","Lee 2018","Lim 2019","Shin 2022","gap","Total","Het","Test"]}},"x":{"value":"width"},"text":{"field":"ttot","type":"nominal"}},"layer":[
{"transform":[{"filter":"datum.kind==='study'"}],"mark":{"type":"text"}},
{"transform":[{"filter":"datum.kind!=='study'&&isValid(datum.ttot)"}],"mark":{"type":"text","font":"Liberation Sans","fontWeight":"bold","fontSize":10.5}},
{"transform":[{"filter":"datum.row==='h2'"}],"mark":{"type":"rule","yOffset":7.2},"encoding":{"x":{"value":0},"x2":{"value":"width"},"text":null}}]},
{"width":46,"height":144.3,"encoding":{"y":{"field":"row","type":"ordinal","axis":null,"scale":{"type":"point","padding":0,"domain":["h1","h2","Baek 2022","Kholinne 2020","Lee 2018","Lim 2019","Shin 2022","gap","Total","Het","Test"]}},"x":{"value":"width"},"text":{"field":"w","type":"nominal"}},"layer":[
{"transform":[{"filter":"datum.kind==='study'"}],"mark":{"type":"text"}},
{"transform":[{"filter":"datum.kind!=='study'&&isValid(datum.w)"}],"mark":{"type":"text","font":"Liberation Sans","fontWeight":"bold","fontSize":10.5}},
{"transform":[{"filter":"datum.row==='h2'"}],"mark":{"type":"rule","yOffset":7.2},"encoding":{"x":{"value":0},"x2":{"value":"width"},"text":null}}]},
{"width":124,"height":144.3,"encoding":{"y":{"field":"row","type":"ordinal","axis":null,"scale":{"type":"point","padding":0,"domain":["h1","h2","Baek 2022","Kholinne 2020","Lee 2018","Lim 2019","Shin 2022","gap","Total","Het","Test"]}},"x":{"value":"width"},"text":{"field":"ci","type":"nominal"}},"layer":[
{"transform":[{"filter":"datum.kind==='study'"}],"mark":{"type":"text","dx":-10}},
{"transform":[{"filter":"datum.row==='h2'||datum.kind==='total'"}],"mark":{"type":"text","font":"Liberation Sans","fontWeight":"bold","fontSize":10.5,"dx":-10}},
{"transform":[{"filter":"datum.row==='h1'"}],"mark":{"type":"text","font":"Liberation Sans","fontWeight":"bold","fontSize":10.5,"align":"center","dx":-67}},
{"transform":[{"filter":"datum.row==='h2'"}],"mark":{"type":"rule","yOffset":7.2},"encoding":{"x":{"value":0},"x2":{"value":"width"},"text":null}}]},
{"width":246.7,"height":129.87,"encoding":{"y":{"field":"row","type":"ordinal","axis":null,"scale":{"type":"point","padding":0,"domain":["h1","h2","Baek 2022","Kholinne 2020","Lee 2018","Lim 2019","Shin 2022","gap","Total","Het"]}}},"layer":[
{"transform":[{"filter":"datum.row==='h2'"}],"mark":{"type":"rule","yOffset":7.2},"encoding":{"x":{"value":0},"x2":{"value":"width"}}},
{"transform":[{"filter":"datum.row==='h2'"}],"mark":{"type":"rule","yOffset":7.2},"encoding":{"x":{"datum":0,"type":"quantitative","title":null},"y2":{"datum":"Het"}}},
{"transform":[{"filter":"datum.kind==='study'"}],"mark":{"type":"rule","color":"#333"},"encoding":{"x":{"field":"lo","type":"quantitative","title":null,"scale":{"domain":[-78,77.8],"nice":false,"zero":false},"axis":{"values":[-50,-25,0,25,50],"title":null}},"x2":{"field":"hi"}}},
{"transform":[{"filter":"datum.kind==='study'"}],"mark":{"type":"square","filled":true,"opacity":1,"color":"#11cc11"},"encoding":{"x":{"field":"md","type":"quantitative","title":null},"size":{"field":"wt","type":"quantitative","scale":{"domain":[0,50],"range":[0,53]},"legend":null}}},
{"transform":[{"filter":"datum.kind==='total'"},{"fold":["lo","md","hi"],"as":["k","v"]}],"mark":{"type":"trail","color":"#000"},"encoding":{"x":{"field":"v","type":"quantitative","title":null},"size":{"condition":{"test":"datum.k==='md'","value":11},"value":0}}},
{"transform":[{"filter":"datum.kind==='head'"}],"mark":{"type":"text","font":"Liberation Sans","fontWeight":"bold","fontSize":10.5,"align":"center"},"encoding":{"x":{"datum":0,"type":"quantitative","title":null},"text":{"field":"ci","type":"nominal"}}},
{"transform":[{"filter":"datum.row==='Het'"}],"mark":{"type":"text","align":"right","dx":-4,"dy":18.8},"encoding":{"x":{"datum":0,"type":"quantitative","title":null},"text":{"field":"favL","type":"nominal"}}},
{"transform":[{"filter":"datum.row==='Het'"}],"mark":{"type":"text","align":"left","dx":5,"dy":18.8},"encoding":{"x":{"datum":0,"type":"quantitative","title":null},"text":{"field":"favR","type":"nominal"}}}]},
{"width":9.3,"height":144.3,"transform":[{"filter":"datum.row==='h2'"}],"mark":{"type":"rule","yOffset":7.2},"encoding":{"y":{"field":"row","type":"ordinal","axis":null,"scale":{"type":"point","padding":0,"domain":["h1","h2","Baek 2022","Kholinne 2020","Lee 2018","Lim 2019","Shin 2022","gap","Total","Het","Test"]}},"x":{"value":0},"x2":{"value":"width"}}}
]},
{"data":{"name":"E"},"spacing":0,"bounds":"flush","hconcat":[
{"width":18,"height":146,"transform":[{"filter":"datum.row==='h1'"}],"mark":{"type":"text","font":"Liberation Sans","fontWeight":"bold","fontSize":17,"align":"left","dx":2,"dy":-9},"encoding":{"x":{"value":0},"y":{"field":"row","type":"ordinal","axis":null,"scale":{"type":"point","padding":0,"align":0,"domain":["h1","h2","Baek 2022","Kholinne 2020","Lacheta 2020","Lee 2018","Lim 2019","Shin 2022","gap","Total","Het","Test"]}},"text":{"value":"E"}}},
{"width":102,"height":146,"encoding":{"y":{"field":"row","type":"ordinal","axis":null,"scale":{"type":"point","padding":0,"domain":["h1","h2","Baek 2022","Kholinne 2020","Lacheta 2020","Lee 2018","Lim 2019","Shin 2022","gap","Total","Het","Test"]}},"x":{"value":0},"text":{"field":"study","type":"nominal"}},"layer":[
{"transform":[{"filter":"datum.kind==='study'||datum.kind==='note'"}],"mark":{"type":"text","align":"left","dx":7}},
{"transform":[{"filter":"(datum.kind==='head'||datum.kind==='total')&&isValid(datum.study)"}],"mark":{"type":"text","font":"Liberation Sans","fontWeight":"bold","fontSize":10.5,"align":"left","dx":7}},
{"transform":[{"filter":"datum.row==='h2'"}],"mark":{"type":"rule","yOffset":6.6},"encoding":{"x":{"value":0},"x2":{"value":"width"},"text":null}}]},
{"width":50,"height":146,"encoding":{"y":{"field":"row","type":"ordinal","axis":null,"scale":{"type":"point","padding":0,"domain":["h1","h2","Baek 2022","Kholinne 2020","Lacheta 2020","Lee 2018","Lim 2019","Shin 2022","gap","Total","Het","Test"]}},"x":{"value":"width"},"text":{"field":"im","type":"nominal"}},"layer":[
{"transform":[{"filter":"datum.kind==='study'"}],"mark":{"type":"text"}},
{"transform":[{"filter":"datum.kind!=='study'&&isValid(datum.im)"}],"mark":{"type":"text","font":"Liberation Sans","fontWeight":"bold","fontSize":10.5}},
{"transform":[{"filter":"datum.row==='h2'"}],"mark":{"type":"rule","yOffset":6.6},"encoding":{"x":{"value":0},"x2":{"value":"width"},"text":null}}]},
{"width":25,"height":146,"encoding":{"y":{"field":"row","type":"ordinal","axis":null,"scale":{"type":"point","padding":0,"domain":["h1","h2","Baek 2022","Kholinne 2020","Lacheta 2020","Lee 2018","Lim 2019","Shin 2022","gap","Total","Het","Test"]}},"x":{"value":"width"},"text":{"field":"isd","type":"nominal"}},"layer":[
{"transform":[{"filter":"datum.kind==='study'"}],"mark":{"type":"text"}},
{"transform":[{"filter":"datum.kind!=='study'&&isValid(datum.isd)"}],"mark":{"type":"text","font":"Liberation Sans","fontWeight":"bold","fontSize":10.5}},
{"transform":[{"filter":"datum.row==='h2'"}],"mark":{"type":"rule","yOffset":6.6},"encoding":{"x":{"value":0},"x2":{"value":"width"},"text":null}}]},
{"width":36.7,"height":146,"encoding":{"y":{"field":"row","type":"ordinal","axis":null,"scale":{"type":"point","padding":0,"domain":["h1","h2","Baek 2022","Kholinne 2020","Lacheta 2020","Lee 2018","Lim 2019","Shin 2022","gap","Total","Het","Test"]}},"x":{"value":"width"},"text":{"field":"itot","type":"nominal"}},"layer":[
{"transform":[{"filter":"datum.kind==='study'"}],"mark":{"type":"text"}},
{"transform":[{"filter":"datum.kind!=='study'&&isValid(datum.itot)"}],"mark":{"type":"text","font":"Liberation Sans","fontWeight":"bold","fontSize":10.5}},
{"transform":[{"filter":"datum.row==='h2'"}],"mark":{"type":"rule","yOffset":6.6},"encoding":{"x":{"value":0},"x2":{"value":"width"},"text":null}}]},
{"width":37.6,"height":146,"encoding":{"y":{"field":"row","type":"ordinal","axis":null,"scale":{"type":"point","padding":0,"domain":["h1","h2","Baek 2022","Kholinne 2020","Lacheta 2020","Lee 2018","Lim 2019","Shin 2022","gap","Total","Het","Test"]}},"x":{"value":"width"},"text":{"field":"tm","type":"nominal"}},"layer":[
{"transform":[{"filter":"datum.kind==='study'"}],"mark":{"type":"text"}},
{"transform":[{"filter":"datum.kind!=='study'&&isValid(datum.tm)"}],"mark":{"type":"text","font":"Liberation Sans","fontWeight":"bold","fontSize":10.5}},
{"transform":[{"filter":"datum.row==='h2'"}],"mark":{"type":"rule","yOffset":6.6},"encoding":{"x":{"value":0},"x2":{"value":"width"},"text":null}}]},
{"width":25.7,"height":146,"encoding":{"y":{"field":"row","type":"ordinal","axis":null,"scale":{"type":"point","padding":0,"domain":["h1","h2","Baek 2022","Kholinne 2020","Lacheta 2020","Lee 2018","Lim 2019","Shin 2022","gap","Total","Het","Test"]}},"x":{"value":"width"},"text":{"field":"tsd","type":"nominal"}},"layer":[
{"transform":[{"filter":"datum.kind==='study'"}],"mark":{"type":"text"}},
{"transform":[{"filter":"datum.kind!=='study'&&isValid(datum.tsd)"}],"mark":{"type":"text","font":"Liberation Sans","fontWeight":"bold","fontSize":10.5}},
{"transform":[{"filter":"datum.row==='h2'"}],"mark":{"type":"rule","yOffset":6.6},"encoding":{"x":{"value":0},"x2":{"value":"width"},"text":null}}]},
{"width":36.7,"height":146,"encoding":{"y":{"field":"row","type":"ordinal","axis":null,"scale":{"type":"point","padding":0,"domain":["h1","h2","Baek 2022","Kholinne 2020","Lacheta 2020","Lee 2018","Lim 2019","Shin 2022","gap","Total","Het","Test"]}},"x":{"value":"width"},"text":{"field":"ttot","type":"nominal"}},"layer":[
{"transform":[{"filter":"datum.kind==='study'"}],"mark":{"type":"text"}},
{"transform":[{"filter":"datum.kind!=='study'&&isValid(datum.ttot)"}],"mark":{"type":"text","font":"Liberation Sans","fontWeight":"bold","fontSize":10.5}},
{"transform":[{"filter":"datum.row==='h2'"}],"mark":{"type":"rule","yOffset":6.6},"encoding":{"x":{"value":0},"x2":{"value":"width"},"text":null}}]},
{"width":46.6,"height":146,"encoding":{"y":{"field":"row","type":"ordinal","axis":null,"scale":{"type":"point","padding":0,"domain":["h1","h2","Baek 2022","Kholinne 2020","Lacheta 2020","Lee 2018","Lim 2019","Shin 2022","gap","Total","Het","Test"]}},"x":{"value":"width"},"text":{"field":"w","type":"nominal"}},"layer":[
{"transform":[{"filter":"datum.kind==='study'"}],"mark":{"type":"text"}},
{"transform":[{"filter":"datum.kind!=='study'&&isValid(datum.w)"}],"mark":{"type":"text","font":"Liberation Sans","fontWeight":"bold","fontSize":10.5}},
{"transform":[{"filter":"datum.row==='h2'"}],"mark":{"type":"rule","yOffset":6.6},"encoding":{"x":{"value":0},"x2":{"value":"width"},"text":null}}]},
{"width":122.4,"height":146,"encoding":{"y":{"field":"row","type":"ordinal","axis":null,"scale":{"type":"point","padding":0,"domain":["h1","h2","Baek 2022","Kholinne 2020","Lacheta 2020","Lee 2018","Lim 2019","Shin 2022","gap","Total","Het","Test"]}},"x":{"value":"width"},"text":{"field":"ci","type":"nominal"}},"layer":[
{"transform":[{"filter":"datum.kind==='study'"}],"mark":{"type":"text","dx":-10.7}},
{"transform":[{"filter":"datum.row==='h2'||datum.kind==='total'"}],"mark":{"type":"text","font":"Liberation Sans","fontWeight":"bold","fontSize":10.5,"dx":-10.7}},
{"transform":[{"filter":"datum.row==='h1'"}],"mark":{"type":"text","font":"Liberation Sans","fontWeight":"bold","fontSize":10.5,"align":"center","dx":-65.7}},
{"transform":[{"filter":"datum.row==='h2'"}],"mark":{"type":"rule","yOffset":6.6},"encoding":{"x":{"value":0},"x2":{"value":"width"},"text":null}}]},
{"width":254.3,"height":132.7,"encoding":{"y":{"field":"row","type":"ordinal","axis":null,"scale":{"type":"point","padding":0,"domain":["h1","h2","Baek 2022","Kholinne 2020","Lacheta 2020","Lee 2018","Lim 2019","Shin 2022","gap","Total","Het"]}}},"layer":[
{"transform":[{"filter":"datum.row==='h2'"}],"mark":{"type":"rule","yOffset":6.6},"encoding":{"x":{"value":0},"x2":{"value":"width"}}},
{"transform":[{"filter":"datum.row==='h2'"}],"mark":{"type":"rule","yOffset":6.6},"encoding":{"x":{"datum":0,"type":"quantitative","title":null},"y2":{"datum":"Het"}}},
{"transform":[{"filter":"datum.kind==='study'"}],"mark":{"type":"rule","color":"#333"},"encoding":{"x":{"field":"lo","type":"quantitative","title":null,"scale":{"domain":[-5.35,5.38],"nice":false,"zero":false},"axis":{"values":[-4,-2,0,2,4],"title":null}},"x2":{"field":"hi"}}},
{"transform":[{"filter":"datum.kind==='study'"}],"mark":{"type":"square","filled":true,"opacity":1,"color":"#11cc11"},"encoding":{"x":{"field":"md","type":"quantitative","title":null},"size":{"field":"wt","type":"quantitative","scale":{"domain":[0,50],"range":[0,53]},"legend":null}}},
{"transform":[{"filter":"datum.kind==='total'"},{"fold":["lo","md","hi"],"as":["k","v"]}],"mark":{"type":"trail","color":"#000"},"encoding":{"x":{"field":"v","type":"quantitative","title":null},"size":{"condition":{"test":"datum.k==='md'","value":11},"value":0}}},
{"transform":[{"filter":"datum.kind==='head'"}],"mark":{"type":"text","font":"Liberation Sans","fontWeight":"bold","fontSize":10.5,"align":"center"},"encoding":{"x":{"datum":0,"type":"quantitative","title":null},"text":{"field":"ci","type":"nominal"}}},
{"transform":[{"filter":"datum.row==='Het'"}],"mark":{"type":"text","align":"right","dx":-4,"dy":18.6},"encoding":{"x":{"datum":0,"type":"quantitative","title":null},"text":{"field":"favL","type":"nominal"}}},
{"transform":[{"filter":"datum.row==='Het'"}],"mark":{"type":"text","align":"left","dx":5,"dy":18.6},"encoding":{"x":{"datum":0,"type":"quantitative","title":null},"text":{"field":"favR","type":"nominal"}}}]},
{"width":8,"height":146,"transform":[{"filter":"datum.row==='h2'"}],"mark":{"type":"rule","yOffset":6.6},"encoding":{"y":{"field":"row","type":"ordinal","axis":null,"scale":{"type":"point","padding":0,"domain":["h1","h2","Baek 2022","Kholinne 2020","Lacheta 2020","Lee 2018","Lim 2019","Shin 2022","gap","Total","Het","Test"]}},"x":{"value":0},"x2":{"value":"width"}}}
]}
]
}
